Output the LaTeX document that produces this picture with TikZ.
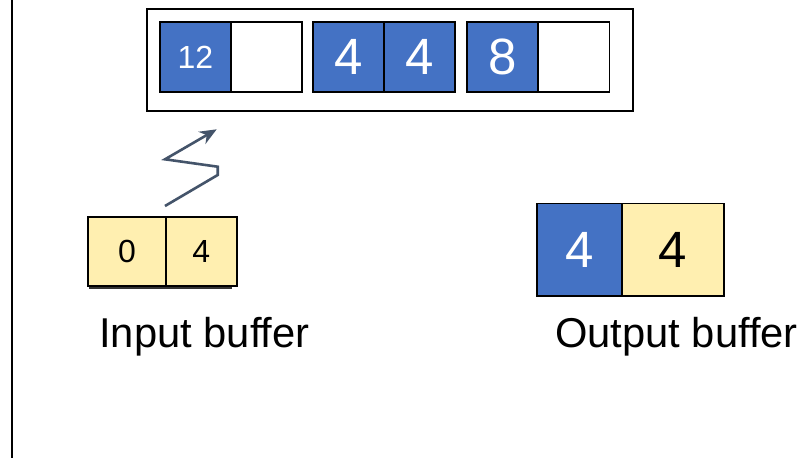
\documentclass[tikz,border=0pt]{standalone}
\usepackage{fontspec}
\setmainfont{Liberation Sans}
\usetikzlibrary{arrows.meta}
\definecolor{cblue}{HTML}{4472C4}
\definecolor{cyel}{HTML}{FFEFB0}
\definecolor{carrow}{HTML}{44546A}
\begin{document}
\begin{tikzpicture}[x=1pt,y=-1pt,
  cell/.style={draw=black,line width=1.6pt,inner sep=0pt,minimum height=70pt,minimum width=71pt},
  bluecell/.style={cell,fill=cblue,text=white},
  whitecell/.style={cell,fill=white},
  yelcell/.style={cell,fill=cyel,text=black},
  small/.style={font=\fontsize{32}{32}\selectfont},
  big/.style={font=\fontsize{51}{51}\selectfont},
  lbl/.style={font=\fontsize{41.7}{41.7}\selectfont,anchor=base,inner sep=0pt}]
\useasboundingbox (0,0) rectangle (803,458);
\fill[white] (0,0) rectangle (803,458);
% left vertical line
\coordinate (vt) at (12,0);
\coordinate (vb) at (12,458);
\draw[line width=2pt] (vt) -- (vb);
% outer frame
\node[draw=black,line width=1.6pt,minimum width=486pt,minimum height=102pt,inner sep=0pt] (frame) at (390,60) {};
% top cells
\node[bluecell,small] (a1) at (195.5,57) {12};
\node[whitecell] (a2) at (266.5,57) {};
\node[bluecell,big] (b1) at (348.5,57) {4};
\node[bluecell,big] (b2) at (419.5,57) {4};
\node[bluecell,big] (d1) at (502.5,57) {8};
\node[whitecell] (d2) at (574,57) {};
% input buffer shadow
\coordinate (s1) at (89,288);
\coordinate (s2) at (232,288);
\draw[line width=2.6pt,black!80] (s1) -- (s2);
% input buffer
\node[yelcell,small,minimum width=77.5pt,minimum height=69pt] (i1) at (127,251.5) {0};
\node[yelcell,small,minimum height=69pt] (i2) at (201.2,251.5) {4};
% zigzag arrow
\coordinate (z0) at (165,206);
\coordinate (z1) at (217.7,175);
\coordinate (z2) at (217.7,166.7);
\coordinate (z3) at (165,159.3);
\coordinate (z4) at (216.7,129.3);
\draw[carrow,line width=2.6pt,line join=miter,-{Stealth[length=17pt,width=14pt]}] (z0) -- (z1) -- (z2) -- (z3) -- (z4);
% output buffer
\node[bluecell,big,minimum width=85.6pt,minimum height=92.7pt] (o1) at (579.5,249.7) {4};
\node[yelcell,big,minimum width=101.7pt,minimum height=92.7pt] (o2) at (673.1,249.7) {4};
% labels
\node[lbl] (lin) at (204.5,347.7) {Input buffer};
\node[lbl] (lout) at (676.5,347.7) {Output buffer};
\end{tikzpicture}
\end{document}
